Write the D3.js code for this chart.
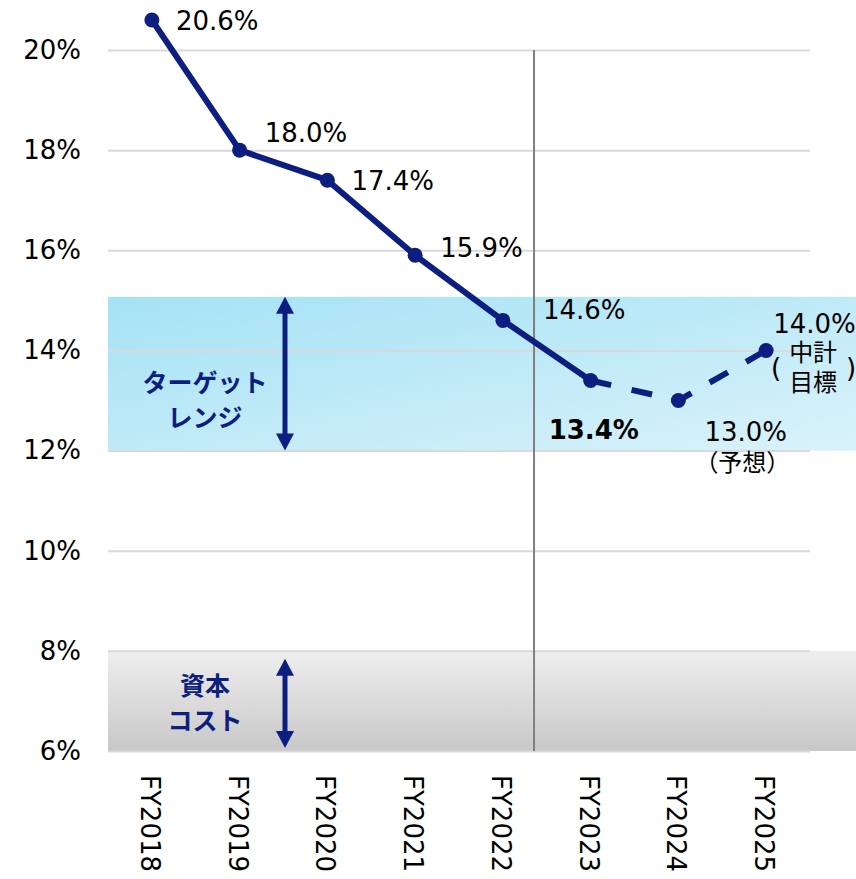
<!DOCTYPE html>
<html>
<head>
<meta charset="utf-8">
<script src="https://cdn.jsdelivr.net/npm/d3@7"></script>
<style>
  html, body { margin: 0; padding: 0; background: #fff; }
  #roe-chart { width: 856px; height: 879px; }
</style>
</head>
<body>
<div id="roe-chart"></div>
<script>
// data
const years = ["FY2018", "FY2019", "FY2020", "FY2021", "FY2022", "FY2023", "FY2024", "FY2025"];
const roe = [20.6, 18.0, 17.4, 15.9, 14.6, 13.4, 13.0, 14.0];
const roeLabels = ["20.6%", "18.0%", "17.4%", "15.9%", "14.6%", "13.4%", "13.0%", "14.0%"];
const yTicks = [6, 8, 10, 12, 14, 16, 18, 20];
const targetRange = [12, 15.07];
const costRange = [6, 8];
const lastActual = 5; // FY2023 -> dashed afterwards

// layout offsets for value labels (dx, dy from the point)
const labelOffsets = [[24, 1], [25, -17], [24, 1], [25, -7], [40, -10], [-42, 49], [26, 31], [7, -27]];

const navy = "#0c1f80";
const latin = "'DejaVu Sans', Verdana, sans-serif";
const cjk = "'Noto Sans CJK JP', sans-serif";

let div = document.getElementById("roe-chart");
let W = 856, H = 879;

let svg = d3.select(div).append("svg")
    .attr("width", W)
    .attr("height", H);

let defs = svg.append("defs");
let gBlue = defs.append("linearGradient").attr("id", "blue-grad")
    .attr("x1", 0).attr("y1", 0).attr("x2", 1).attr("y2", 1);
gBlue.append("stop").attr("offset", "0%").attr("stop-color", "#a5e2f5");
gBlue.append("stop").attr("offset", "100%").attr("stop-color", "#daf2fa");
let gGray = defs.append("linearGradient").attr("id", "gray-grad")
    .attr("x1", 0).attr("y1", 0).attr("x2", 0).attr("y2", 1);
gGray.append("stop").attr("offset", "0%").attr("stop-color", "#eeeeee");
gGray.append("stop").attr("offset", "100%").attr("stop-color", "#c8c8c8");

let x = d3.scaleBand().domain(years).range([108, 810]);
let y = d3.scaleLinear().domain([6, 20]).range([751, 50]);
let cx = d => x(d) + x.bandwidth() / 2;

// bands
svg.append("rect")
    .attr("x", x.range()[0])
    .attr("y", y(targetRange[1]))
    .attr("width", W - x.range()[0])
    .attr("height", y(targetRange[0]) - y(targetRange[1]))
    .attr("fill", "url(#blue-grad)");

svg.append("rect")
    .attr("x", x.range()[0])
    .attr("y", y(costRange[1]))
    .attr("width", W - x.range()[0])
    .attr("height", y(costRange[0]) - y(costRange[1]))
    .attr("fill", "url(#gray-grad)");

// gridlines + y axis
let yAxis = d3.axisLeft(y)
    .tickValues(yTicks)
    .tickSize(-(x.range()[1] - x.range()[0]))
    .tickPadding(27)
    .tickFormat(d => d + "%");

let ga = svg.append("g")
    .attr("transform", `translate(${x.range()[0]},0)`)
    .call(yAxis);
ga.select(".domain").remove();
ga.selectAll(".tick line").attr("stroke", "#d9d9d9").attr("stroke-width", 2);
ga.selectAll(".tick text")
    .attr("font-family", latin)
    .attr("font-size", 26)
    .attr("fill", "#000");

// divider between actual and plan
let divX = x("FY2022") + x.bandwidth() * 0.855;
svg.append("line")
    .attr("x1", divX).attr("x2", divX)
    .attr("y1", y(20)).attr("y2", y(6))
    .attr("stroke", "#808080")
    .attr("stroke-width", 2);

// x labels (rotated)
svg.selectAll(".xlab").data(years).enter()
    .append("text")
    .attr("class", "xlab")
    .attr("transform", d => `translate(${cx(d) - 2},775) rotate(90)`)
    .attr("dy", "0.35em")
    .attr("font-family", latin)
    .attr("font-size", 26)
    .attr("fill", "#000")
    .text(d => d);

// double arrows
function doubleArrow(xp, y1, y2) {
    let g = svg.append("g");
    let head = 17, hw = 9;
    g.append("line")
        .attr("x1", xp).attr("x2", xp)
        .attr("y1", y1 + head - 2).attr("y2", y2 - head + 2)
        .attr("stroke", navy).attr("stroke-width", 5);
    g.append("path")
        .attr("d", `M${xp},${y1} L${xp + hw},${y1 + head} L${xp - hw},${y1 + head} Z`)
        .attr("fill", navy);
    g.append("path")
        .attr("d", `M${xp},${y2} L${xp + hw},${y2 - head} L${xp - hw},${y2 - head} Z`)
        .attr("fill", navy);
}
doubleArrow(285, y(targetRange[1]), y(targetRange[0]));
doubleArrow(285, y(7.84), y(6.06));

// band captions
function caption(lines, cxp, cyp) {
    lines.forEach((t, i) => {
        svg.append("text")
            .attr("x", cxp)
            .attr("y", cyp + i * 35)
            .attr("dy", "0.35em")
            .attr("text-anchor", "middle")
            .attr("font-family", cjk)
            .attr("font-weight", "bold")
            .attr("font-size", 25)
            .attr("fill", navy)
            .text(t);
    });
}
caption(["ターゲット", "レンジ"], 205, 383);
caption(["資本", "コスト"], 205, 686);

// line
let pts = years.map((d, i) => ({ year: d, v: roe[i] }));
let line = d3.line().x(d => cx(d.year)).y(d => y(d.v));

svg.append("path")
    .attr("d", line(pts.slice(0, lastActual + 1)))
    .attr("stroke", navy)
    .attr("stroke-width", 6)
    .attr("stroke-linejoin", "round")
    .attr("fill", "none");

svg.append("path")
    .attr("d", line(pts.slice(lastActual)))
    .attr("stroke", navy)
    .attr("stroke-width", 6)
    .attr("stroke-dasharray", "21,21")
    .attr("fill", "none");

svg.selectAll(".pt").data(pts).enter()
    .append("circle")
    .attr("class", "pt")
    .attr("cx", d => cx(d.year))
    .attr("cy", d => y(d.v))
    .attr("r", 7.5)
    .attr("fill", navy);

// value labels
svg.selectAll(".vlab").data(pts).enter()
    .append("text")
    .attr("class", "vlab")
    .attr("x", (d, i) => cx(d.year) + labelOffsets[i][0])
    .attr("y", (d, i) => y(d.v) + labelOffsets[i][1])
    .attr("dy", "0.35em")
    .attr("font-family", latin)
    .attr("font-size", 26)
    .attr("font-weight", (d, i) => i === lastActual ? "bold" : "normal")
    .attr("fill", "#000")
    .text((d, i) => roeLabels[i]);

// notes under labels
let p24 = [cx("FY2024"), y(roe[6])];
svg.append("text")
    .attr("x", p24[0] + 64).attr("y", p24[1] + 62)
    .attr("dy", "0.35em")
    .attr("text-anchor", "middle")
    .attr("font-family", cjk)
    .attr("font-size", 24)
    .attr("fill", "#000")
    .text("（予想）");

let p25 = [cx("FY2025"), y(roe[7])];
["中計", "目標"].forEach((t, i) => {
    svg.append("text")
        .attr("x", p25[0] + 47).attr("y", p25[1] + 2 + i * 30)
        .attr("dy", "0.35em")
        .attr("text-anchor", "middle")
        .attr("font-family", cjk)
        .attr("font-size", 24)
        .attr("fill", "#000")
        .text(t);
});
[["(", 10], [")", 85]].forEach(([t, dx]) => {
    svg.append("text")
        .attr("x", p25[0] + dx).attr("y", p25[1] + 17)
        .attr("dy", "0.35em")
        .attr("text-anchor", "middle")
        .attr("font-family", latin)
        .attr("font-size", 26)
        .attr("fill", "#000")
        .text(t);
});
</script>
</body>
</html>
